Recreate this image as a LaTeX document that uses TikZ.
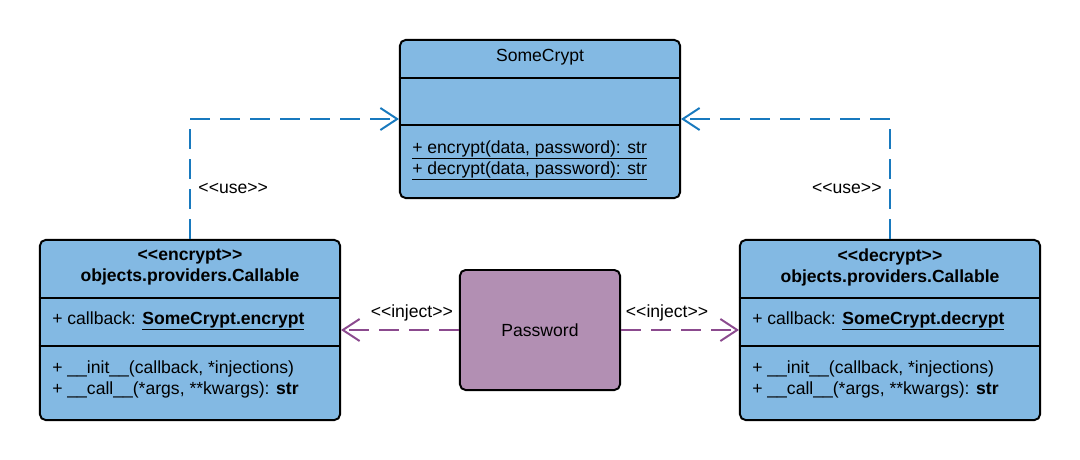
\documentclass[tikz,border=0pt]{standalone}
\usepackage{fontspec}
\setmainfont{Liberation Sans}
\usetikzlibrary{arrows.meta}

\definecolor{classblue}{RGB}{131,185,227}
\definecolor{pwdpurple}{RGB}{178,143,179}
\definecolor{useblue}{RGB}{24,121,190}
\definecolor{injectpurple}{RGB}{139,74,142}

% guillemet-free stereotype
\newcommand{\stereo}[1]{<\kern0pt<#1>\kern0pt>}

\begin{document}
\begin{tikzpicture}[x=0.025cm,y=-0.025cm,
    every node/.style={font=\fontsize{12.5}{15}\selectfont},
    class node/.style={draw=black,line width=1.4pt,rounded corners=4pt,fill=classblue,inner sep=0pt},
    pwd node/.style={draw=black,line width=1.4pt,rounded corners=4pt,fill=pwdpurple,inner sep=0pt,
        minimum width=4cm,minimum height=3cm},
    divider/.style={draw=black,line width=1.4pt},
    member/.style={anchor=west,inner sep=0pt},
    use arrow/.style={draw=useblue,line width=1.4pt,dash pattern=on 0.5cm off 0.25cm,
        -{Straight Barb[length=4.2mm,width=5.5mm]}},
    inject arrow/.style={draw=injectpurple,line width=1.4pt,dash pattern=on 0.5cm off 0.25cm,
        -{Straight Barb[length=4.2mm,width=5.5mm]}}]
    \useasboundingbox (0,0) rectangle (1080,460);

    % classes
    \node[class node,minimum width=7cm,minimum height=3.95cm] (crypt) at (540,119) {};
    \node[class node,minimum width=7.5cm,minimum height=4.5cm] (enc) at (190,330) {};
    \node[class node,minimum width=7.5cm,minimum height=4.5cm] (dec) at (890,330) {};
    \node[pwd node] (pwd) at (540,330) {Password};

    % compartments
    \draw[divider] (crypt.west |- 0,78) -- (crypt.east |- 0,78);
    \draw[divider] (crypt.west |- 0,125) -- (crypt.east |- 0,125);
    \draw[divider] (enc.west |- 0,298) -- (enc.east |- 0,298);
    \draw[divider] (enc.west |- 0,346) -- (enc.east |- 0,346);
    \draw[divider] (dec.west |- 0,298) -- (dec.east |- 0,298);
    \draw[divider] (dec.west |- 0,346) -- (dec.east |- 0,346);

    % SomeCrypt
    \node (crypt title) at (540,57) {SomeCrypt};
    \node[member] (crypt m1) at (412,150) {\underline{+ encrypt(data, password): str}};
    \node[member] (crypt m2) at (412,171) {\underline{+ decrypt(data, password): str}};

    % encrypt callable
    \node[align=center] (enc title) at (190,267) {\textbf{\stereo{encrypt}}\\\textbf{objects.providers.Callable}};
    \node[member] (enc attr) at (52,321) {+ callback: \textbf{\underline{SomeCrypt.encrypt}}};
    \node[member] (enc m1) at (52,369) {+ \_\_init\_\_(callback, *injections)};
    \node[member] (enc m2) at (52,390) {+ \_\_call\_\_(*args, **kwargs): \textbf{str}};

    % decrypt callable
    \node[align=center] (dec title) at (890,267) {\textbf{\stereo{decrypt}}\\\textbf{objects.providers.Callable}};
    \node[member] (dec attr) at (752,321) {+ callback: \textbf{\underline{SomeCrypt.decrypt}}};
    \node[member] (dec m1) at (752,369) {+ \_\_init\_\_(callback, *injections)};
    \node[member] (dec m2) at (752,390) {+ \_\_call\_\_(*args, **kwargs): \textbf{str}};

    % dependencies
    \draw[use arrow] (enc.north) |- node[pos=0.21,right,xshift=2pt] {\stereo{use}} (crypt.west);
    \draw[use arrow] (dec.north) |- node[pos=0.21,left,xshift=-2pt] {\stereo{use}} (crypt.east);
    \path (pwd.west) edge[inject arrow] node[pos=0.4,above,yshift=2pt] {\stereo{inject}} (enc.east)
          (pwd.east) edge[inject arrow] node[pos=0.39,above,yshift=2pt] {\stereo{inject}} (dec.west);
\end{tikzpicture}
\end{document}
